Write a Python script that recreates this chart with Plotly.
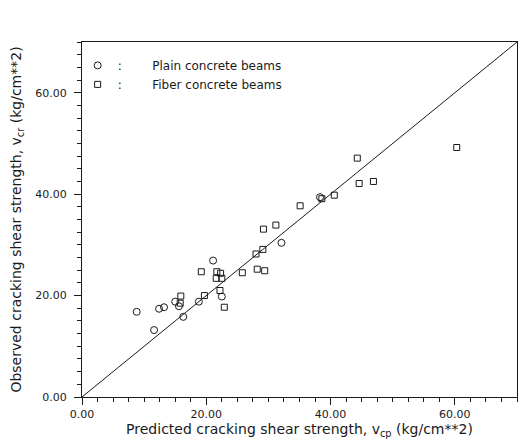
import plotly.graph_objects as go

# Plain concrete beams (circles): predicted, observed
plain_pred = [8.8, 11.6, 12.4, 13.2, 15.0, 15.6, 16.3, 18.8, 21.1, 22.5, 32.1, 38.3]
plain_obs = [16.8, 13.2, 17.4, 17.7, 18.8, 17.9, 15.8, 18.8, 26.9, 19.8, 30.4, 39.4]

# Fiber concrete beams (squares): predicted, observed
fiber_pred = [15.8, 15.9, 19.2, 19.7, 21.7, 21.6, 22.3, 22.5, 22.2, 22.9, 25.8, 28.2,
              29.4, 28.0, 29.1, 29.2, 31.2, 35.1, 38.6, 40.6, 44.3, 44.6, 46.9, 60.3]
fiber_obs = [18.5, 19.9, 24.7, 20.0, 24.7, 23.4, 24.4, 23.4, 21.0, 17.7, 24.5, 25.2,
             24.9, 28.2, 29.1, 33.1, 33.9, 37.7, 39.1, 39.8, 47.1, 42.1, 42.5, 49.2]

line_x = [0, 70]
line_y = [0, 70]

FONT = "DejaVu Sans"
INK = "#1a1a1a"
NB = "\u00a0"

fig = go.Figure()
fig.add_trace(go.Scatter(
    x=line_x, y=line_y, mode="lines", line=dict(color=INK, width=1),
    showlegend=False, hoverinfo="skip"))
fig.add_trace(go.Scatter(
    x=plain_pred, y=plain_obs, mode="markers",
    name=":" + NB * 8 + "Plain concrete beams",
    marker=dict(symbol="circle-open", size=7, color=INK, line=dict(width=1, color=INK))))
fig.add_trace(go.Scatter(
    x=fiber_pred, y=fiber_obs, mode="markers",
    name=":" + NB * 8 + "Fiber concrete beams",
    marker=dict(symbol="square-open", size=6, color=INK, line=dict(width=1, color=INK))))

axis_common = dict(
    range=[0, 70], dtick=20, tick0=0, tickformat=".2f",
    showgrid=False, zeroline=False,
    showline=True, linecolor=INK, linewidth=1, mirror=True,
    ticks="outside", ticklen=7, tickcolor=INK, tickwidth=1,
    minor=dict(dtick=2.5, ticks="outside", ticklen=4, tickcolor=INK, tickwidth=1),
    tickfont=dict(family=FONT, size=11, color=INK),
)

fig.update_layout(
    width=527, height=445,
    margin=dict(l=82, r=10, t=42, b=48),
    paper_bgcolor="white", plot_bgcolor="white",
    xaxis=dict(**axis_common,
               title=dict(text="Predicted cracking shear strength, v<sub>cp</sub> (kg/cm**2)",
                          font=dict(family=FONT, size=14, color=INK), standoff=2)),
    yaxis=dict(**axis_common, ticklabelstandoff=5,
               title=dict(text="Observed cracking shear strength, v<sub>cr</sub> (kg/cm**2)",
                          font=dict(family=FONT, size=14, color=INK), standoff=10)),
    legend=dict(x=-0.01, y=0.975, xanchor="left", yanchor="top",
                bgcolor="rgba(0,0,0,0)", font=dict(family=FONT, size=12, color=INK),
                itemwidth=30, tracegroupgap=0),
)

fig.write_html("out.html")
